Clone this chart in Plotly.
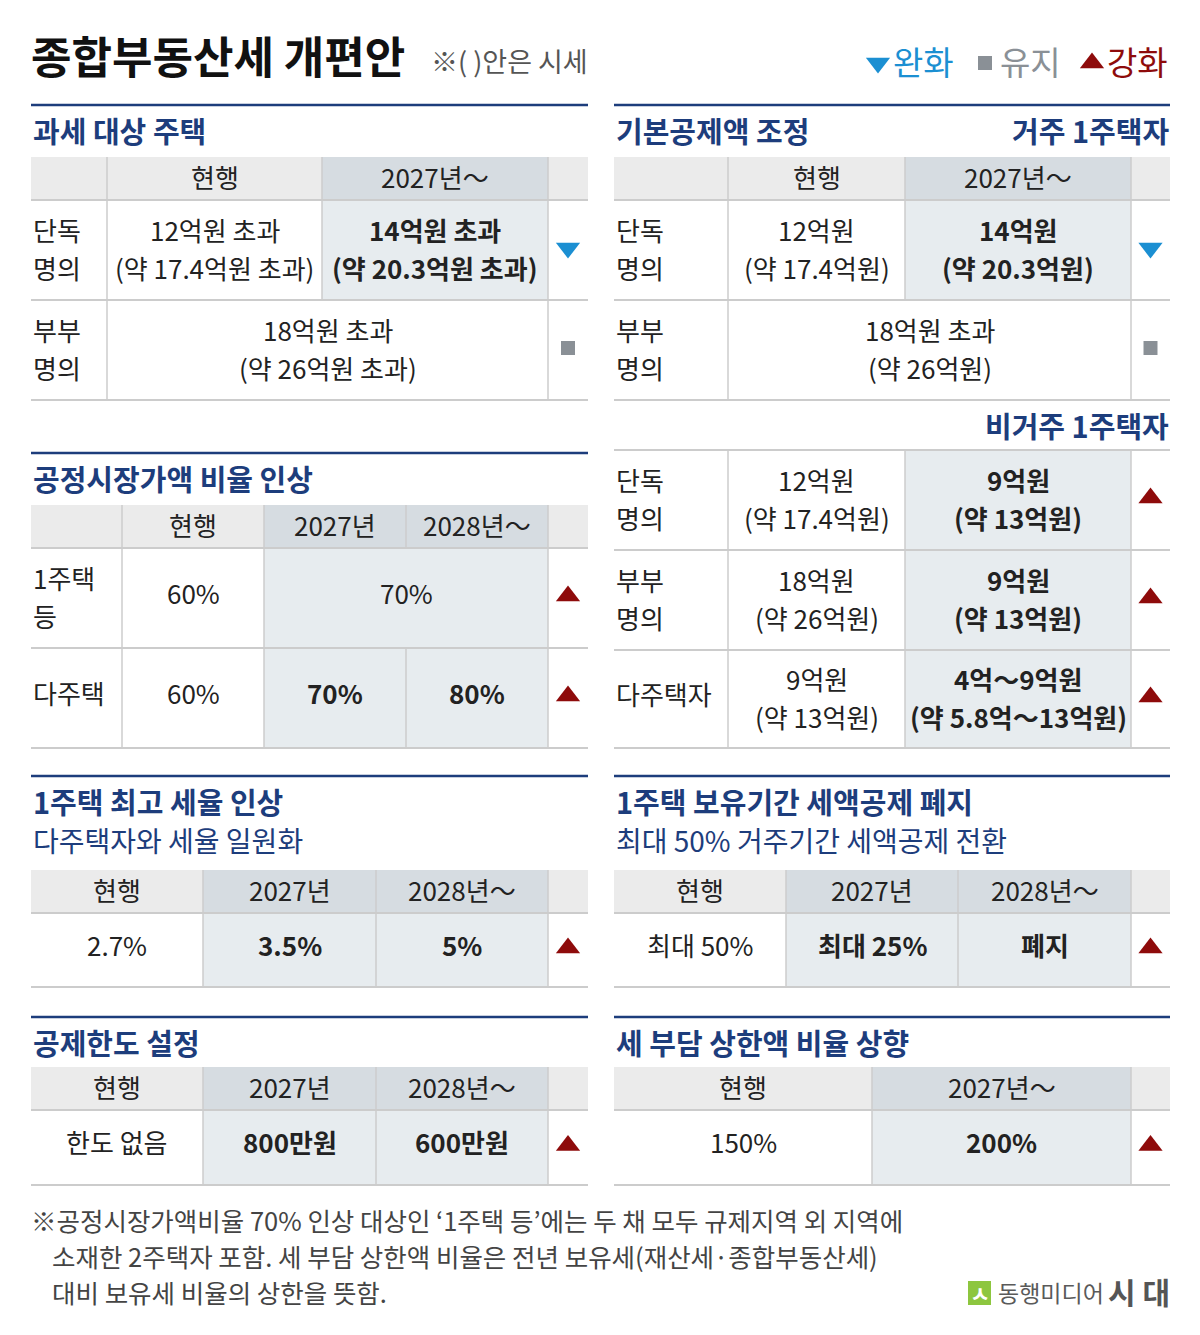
import plotly.graph_objects as go

# ---------------- data ----------------
title = "종합부동산세 개편안"
title_note = "※( )안은 시세"
legend_marks = ["down", "keep", "up"]
legend_labels = ["완화", "유지", "강화"]

# 과세 대상 주택
tax_title = "과세 대상 주택"
tax_header = ["", "현행", "2027년～", ""]
tax_rows = [
    ["단독\n명의", "12억원 초과\n(약 17.4억원 초과)", "14억원 초과\n(약 20.3억원 초과)"],
    ["부부\n명의", "18억원 초과\n(약 26억원 초과)", None],
]
tax_dirs = ["down", "keep"]

# 기본공제액 조정
ded_title = "기본공제액 조정"
ded_group_res = "거주 1주택자"
ded_group_non = "비거주 1주택자"
ded_header = ["", "현행", "2027년～", ""]
ded_rows_res = [
    ["단독\n명의", "12억원\n(약 17.4억원)", "14억원\n(약 20.3억원)"],
    ["부부\n명의", "18억원 초과\n(약 26억원)", None],
]
ded_dirs_res = ["down", "keep"]
ded_rows_non = [
    ["단독\n명의", "12억원\n(약 17.4억원)", "9억원\n(약 13억원)"],
    ["부부\n명의", "18억원\n(약 26억원)", "9억원\n(약 13억원)"],
    ["다주택자", "9억원\n(약 13억원)", "4억～9억원\n(약 5.8억～13억원)"],
]
ded_dirs_non = ["up", "up", "up"]

# 공정시장가액 비율 인상
fmv_title = "공정시장가액 비율 인상"
fmv_header = ["", "현행", "2027년", "2028년～", ""]
fmv_rows = [
    ["1주택\n등", "60%", "70%", None],
    ["다주택", "60%", "70%", "80%"],
]
fmv_dirs = ["up", "up"]

# 1주택 최고 세율 인상
rate_title = "1주택 최고 세율 인상"
rate_sub = "다주택자와 세율 일원화"
rate_header = ["현행", "2027년", "2028년～", ""]
rate_rows = [["2.7%", "3.5%", "5%"]]
rate_dirs = ["up"]

# 1주택 보유기간 세액공제 폐지
hold_title = "1주택 보유기간 세액공제 폐지"
hold_sub = "최대 50% 거주기간 세액공제 전환"
hold_header = ["현행", "2027년", "2028년～", ""]
hold_rows = [["최대 50%", "최대 25%", "폐지"]]
hold_dirs = ["up"]

# 공제한도 설정
cap_title = "공제한도 설정"
cap_header = ["현행", "2027년", "2028년～", ""]
cap_rows = [["한도 없음", "800만원", "600만원"]]
cap_dirs = ["up"]

# 세 부담 상한액 비율 상향
burden_title = "세 부담 상한액 비율 상향"
burden_header = ["현행", "2027년～", ""]
burden_rows = [["150%", "200%"]]
burden_dirs = ["up"]

footnote = [
    "※공정시장가액비율 70% 인상 대상인 ‘1주택 등’에는 두 채 모두 규제지역 외 지역에",
    "소재한 2주택자 포함. 세 부담 상한액 비율은 전년 보유세(재산세·종합부동산세)",
    "대비 보유세 비율의 상한을 뜻함.",
]
credit_name = "동행미디어"
credit_brand = "시 대"

# ---------------- style ----------------
FONT = "Noto Sans CJK KR"
NAVY = "#1d3d7c"
TXT = "#222222"
HEAD = "#ebebeb"
HEAD_HI = "#d6dce1"
BODY_HI = "#e7ecef"
GRID = "#cccccc"
MARK_COLOR = {"down": "#1b8fd2", "keep": "#8a9096", "up": "#8e0b0b"}
MARK_SYMBOL = {"down": "triangle-down", "keep": "square", "up": "triangle-up"}
MARK_SIZE = {"down": 21, "keep": 14, "up": 21}
LINE_GAP = 38
DY = -2      # glyphs sit a bit high in the reference
DY1 = -4     # extra lift for single-line body cells

shapes = []
annos = []
marks = {"down": ([], []), "keep": ([], []), "up": ([], [])}


def rect(x0, y0, x1, y1, fill):
    shapes.append(dict(type="rect", x0=x0, y0=y0, x1=x1, y1=y1,
                       fillcolor=fill, line=dict(width=0), layer="below"))


def line(x0, y0, x1, y1, color=GRID, width=1.5):
    shapes.append(dict(type="line", x0=x0, y0=y0, x1=x1, y1=y1,
                       line=dict(color=color, width=width)))


def text(x, y, s, size=26, color=TXT, bold=False, anchor="center"):
    annos.append(dict(x=x, y=y, text=s, showarrow=False, xanchor=anchor,
                      yanchor="middle",
                      font=dict(family=FONT, size=size, color=color,
                                weight="bold" if bold else "normal")))


def cell_text(x, y, s, bold=False, anchor="center"):
    parts = s.split("\n")
    n = len(parts)
    off = DY + (DY1 if n == 1 else 0)
    for i, p in enumerate(parts):
        text(x, y + off + (i - (n - 1) / 2) * LINE_GAP, p, bold=bold, anchor=anchor)


def section(x0, x1, y, title_s, right_s=None, sub_s=None):
    line(x0, y, x1, y, color=NAVY, width=2.5)
    text(x0, y + 25, title_s, size=29, color=NAVY, bold=True, anchor="left")
    if right_s:
        text(x1 + 1, y + 25, right_s, size=29, color=NAVY, bold=True, anchor="right")
    if sub_s:
        text(x0, y + 64, sub_s, size=28, color=NAVY, anchor="left")


def table(xe, ye, header, rows, dirs, hi, label_col):
    """xe: column edges, ye: row edges (first row is header if header given)"""
    ncol = len(xe) - 1
    r0 = 0
    if header is not None:
        for c in range(ncol):
            rect(xe[c], ye[0], xe[c + 1], ye[1], HEAD_HI if c in hi else HEAD)
            if header[c]:
                text((xe[c] + xe[c + 1]) / 2, (ye[0] + ye[1]) / 2 + DY, header[c])
            if c > 0:
                line(xe[c], ye[0], xe[c], ye[1])
        r0 = 1
    else:
        line(xe[0], ye[0], xe[-1], ye[0], width=2)
    for r, row in enumerate(rows):
        y0, y1 = ye[r0 + r], ye[r0 + r + 1]
        ym = (y0 + y1) / 2
        c = 0
        while c < len(row):
            span = 1
            while c + span < len(row) and row[c + span] is None:
                span += 1
            x0, x1 = xe[c], xe[c + span]
            if c in hi:
                rect(x0, y0, x1, y1, BODY_HI)
            if label_col and c == 0:
                cell_text(x0, ym, row[c], anchor="left")
            else:
                cell_text((x0 + x1) / 2, ym, row[c], bold=(c in hi and span == 1))
            line(x1, y0, x1, y1)
            c += span
        marks[dirs[r]][0].append((xe[-2] + xe[-1]) / 2)
        marks[dirs[r]][1].append(ym - 2)
    for y in ye[1:]:
        line(xe[0], y, xe[-1], y, width=2)


# ---------------- header ----------------
text(29, 55, title, size=44, color="#111111", bold=True, anchor="left")
text(429, 60, title_note, size=27, color="#555555", anchor="left")
leg_x = [878, 985, 1092]
for k, lab, lx in zip(legend_marks, legend_labels, leg_x):
    marks[k][0].append(lx)
    marks[k][1].append(63)
    text(lx + 13, 61, lab, size=33, color=MARK_COLOR[k], anchor="left")

# ---------------- left column ----------------
section(31, 588, 105, tax_title)
table([31, 107, 322, 548, 588], [157, 200, 300, 400], tax_header, tax_rows,
      tax_dirs, hi={2}, label_col=True)

section(31, 588, 453, fmv_title)
table([31, 122, 264, 406, 548, 588], [505, 548, 648, 748], fmv_header, fmv_rows,
      fmv_dirs, hi={2, 3}, label_col=True)

section(31, 588, 776, rate_title, sub_s=rate_sub)
table([31, 203, 376, 548, 588], [870, 913, 987], rate_header, rate_rows,
      rate_dirs, hi={1, 2}, label_col=False)

section(31, 588, 1017, cap_title)
table([31, 203, 376, 548, 588], [1067, 1110, 1185], cap_header, cap_rows,
      cap_dirs, hi={1, 2}, label_col=False)

# ---------------- right column ----------------
section(614, 1170, 105, ded_title, right_s=ded_group_res)
table([614, 728, 905, 1131, 1170], [157, 200, 300, 400], ded_header, ded_rows_res,
      ded_dirs_res, hi={2}, label_col=True)
text(1171, 425, ded_group_non, size=29, color=NAVY, bold=True, anchor="right")
table([614, 728, 905, 1131, 1170], [450, 550, 650, 748], None, ded_rows_non,
      ded_dirs_non, hi={2}, label_col=True)

section(614, 1170, 776, hold_title, sub_s=hold_sub)
table([614, 786, 958, 1131, 1170], [870, 913, 987], hold_header, hold_rows,
      hold_dirs, hi={1, 2}, label_col=False)

section(614, 1170, 1017, burden_title)
table([614, 872, 1131, 1170], [1067, 1110, 1185], burden_header, burden_rows,
      burden_dirs, hi={1}, label_col=False)

# ---------------- footnote & credit ----------------
for i, s in enumerate(footnote):
    text(29 if i == 0 else 50, 1219 + i * 36, s, size=25.5, color="#444444",
         anchor="left")

shapes.append(dict(type="rect", x0=968, y0=1281, x1=991, y1=1305,
                   fillcolor="#8dc63f", line=dict(width=0)))
text(979.5, 1292, "ㅅ", size=22, color="white", bold=True)
text(996, 1292, credit_name, size=23, color="#5a5a5a", anchor="left")
text(1172, 1291, credit_brand, size=30, color="#555555", bold=True, anchor="right")

# ---------------- figure ----------------
fig = go.Figure()
for k in ["down", "keep", "up"]:
    fig.add_trace(go.Scatter(
        x=marks[k][0], y=marks[k][1], mode="markers", hoverinfo="skip",
        marker=dict(symbol=MARK_SYMBOL[k], size=MARK_SIZE[k], color=MARK_COLOR[k],
                    line=dict(width=0)),
        showlegend=False))

fig.update_layout(
    width=1200, height=1335,
    margin=dict(l=0, r=0, t=0, b=0),
    paper_bgcolor="white", plot_bgcolor="white",
    xaxis=dict(range=[0, 1200], visible=False, fixedrange=True),
    yaxis=dict(range=[1335, 0], visible=False, fixedrange=True),
    shapes=shapes, annotations=annos,
    font=dict(family=FONT),
)

fig.write_html("out.html", config={"displayModeBar": False},
               post_script="document.body.style.margin='0';")
